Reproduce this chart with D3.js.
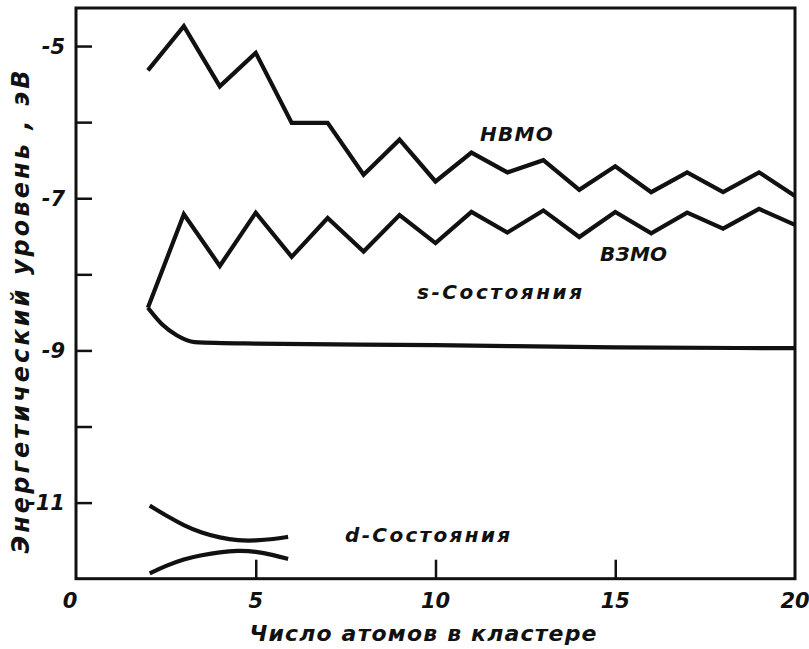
<!DOCTYPE html>
<html><head><meta charset="utf-8">
<script src="https://cdn.jsdelivr.net/npm/d3@7"></script>
<style>
body{margin:0;background:#fff;}
text{font-family:"DejaVu Sans",sans-serif;font-weight:bold;font-style:italic;fill:#111;}
</style></head><body>
<svg id="c" width="809" height="649"></svg>
<script>
// Data
const atoms = [2,3,4,5,6,7,8,9,10,11,12,13,14,15,16,17,18,19,20];
const lumo  = [-5.32,-4.74,-5.53,-5.09,-6.01,-6.01,-6.69,-6.23,-6.78,-6.40,-6.66,-6.50,-6.89,-6.58,-6.92,-6.66,-6.92,-6.66,-6.97];
const homo  = [-8.44,-7.21,-7.89,-7.19,-7.77,-7.26,-7.70,-7.22,-7.59,-7.18,-7.45,-7.16,-7.51,-7.18,-7.46,-7.19,-7.40,-7.14,-7.35];
const sX    = [2,2.4,2.8,3.3,5,10,15,20];
const sY    = [-8.44,-8.66,-8.80,-8.89,-8.91,-8.93,-8.96,-8.97];
const dX    = [2.05,2.5,3,3.5,4,4.5,5,5.5,5.9];
const dUpper= [-11.04,-11.17,-11.30,-11.40,-11.46,-11.50,-11.50,-11.48,-11.45];
const dLower= [-11.93,-11.83,-11.74,-11.69,-11.65,-11.63,-11.64,-11.69,-11.74];
const xTickLabels = [0,5,10,15,20];
const xTickMarks  = [5,10,15];
const yTickLabels = [-5,-7,-9,-11];
const yTickMarks  = [-5,-6,-7,-8,-9,-10,-11];
const labels = [
  {text:"НВМО", x:12.25, y:-6.15, w:73},
  {text:"ВЗМО", x:15.51, y:-7.73, w:67},
  {text:"s-Состояния", x:11.78, y:-8.23, w:165},
  {text:"d-Состояния", x:9.78, y:-11.43, w:165}
];

const svg = d3.select("#c");
const L=76, R=795, T=8, B=578.7;
const x = d3.scaleLinear().domain([0,20]).range([L,R]);
const y = d3.scaleLinear().domain([-12,-4.5]).range([B,T]);

// frame
svg.append("rect").attr("x",L).attr("y",T).attr("width",R-L).attr("height",B-T)
  .attr("fill","none").attr("stroke","#111").attr("stroke-width",3);

// y axis ticks (inward)
const yAxis = d3.axisRight(y).tickValues(yTickMarks).tickSize(16).tickFormat("");
const gy = svg.append("g").attr("transform",`translate(${L},0)`).call(yAxis);
gy.select(".domain").remove();
gy.selectAll("line").attr("stroke","#111").attr("stroke-width",2.5);
svg.append("g").selectAll("text").data(yTickLabels).join("text")
  .attr("x",L-11).attr("y",d=>y(d)).attr("dy","0.36em").attr("text-anchor","end")
  .style("font-size","21px").text(d=>"-"+Math.abs(d));

// x axis ticks (inward)
const xAxis = d3.axisTop(x).tickValues(xTickMarks).tickSize(19).tickFormat("");
const gx = svg.append("g").attr("transform",`translate(0,${B})`).call(xAxis);
gx.select(".domain").remove();
gx.selectAll("line").attr("stroke","#111").attr("stroke-width",2.5);
svg.append("g").selectAll("text").data(xTickLabels).join("text")
  .attr("x",d=>x(d)-(d===0?6:0)).attr("y",B+29).attr("text-anchor","middle")
  .style("font-size","21px").text(d=>d);

// axis titles
svg.append("text").attr("x",423).attr("y",641).attr("text-anchor","middle")
  .style("font-size","22px").attr("textLength",347).attr("lengthAdjust","spacing")
  .text("Число  атомов  в  кластере");
svg.append("text").attr("transform","translate(29,312) rotate(-90)").attr("text-anchor","middle")
  .style("font-size","24px").attr("textLength",483).attr("lengthAdjust","spacing")
  .text("Энергетический  уровень , эВ");

// lines
const line = d3.line().x(d=>x(d[0])).y(d=>y(d[1]));
const smooth = d3.line().x(d=>x(d[0])).y(d=>y(d[1])).curve(d3.curveMonotoneX);
const basis = d3.line().x(d=>x(d[0])).y(d=>y(d[1])).curve(d3.curveBasis);
const plot = svg.append("g").attr("fill","none").attr("stroke","#111").attr("stroke-width",4.2)
  .attr("stroke-linejoin","miter").attr("stroke-linecap","butt");
plot.append("path").attr("d",line(atoms.map((a,i)=>[a,lumo[i]])));
plot.append("path").attr("d",line(atoms.map((a,i)=>[a,homo[i]])));
plot.append("path").attr("d",smooth(sX.map((a,i)=>[a,sY[i]])));
plot.append("path").attr("d",basis(dX.map((a,i)=>[a,dUpper[i]])));
plot.append("path").attr("d",basis(dX.map((a,i)=>[a,dLower[i]])));

// labels
svg.append("g").selectAll("text").data(labels).join("text")
  .attr("x",d=>x(d.x)).attr("y",d=>y(d.y)).attr("text-anchor","middle").attr("dy","0.35em")
  .attr("textLength",d=>d.w).attr("lengthAdjust","spacing")
  .style("font-size","20px").text(d=>d.text);
</script></body></html>
